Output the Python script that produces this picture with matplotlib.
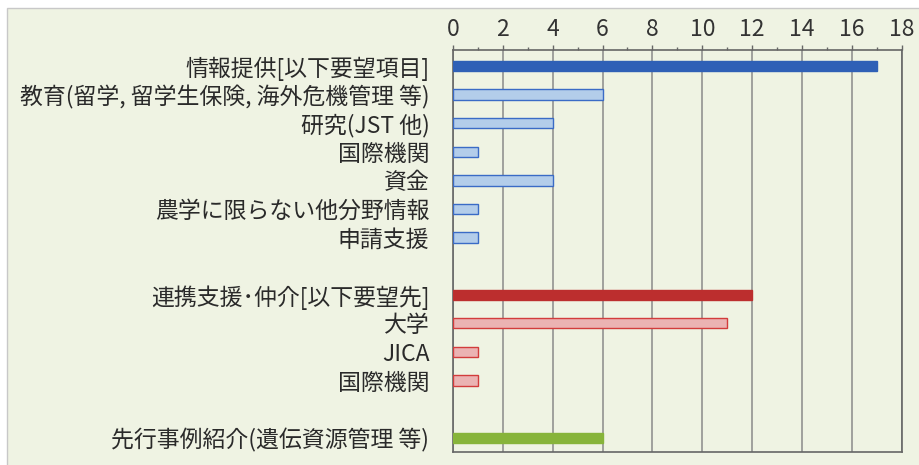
import matplotlib.pyplot as plt
from matplotlib.patches import Rectangle
from matplotlib.ticker import MultipleLocator
import numpy as np

plt.rcParams['font.family'] = ['Noto Sans CJK JP', 'DejaVu Sans']

# chart data ('' = blank spacer row)
labels = ['情報提供[以下要望項目]', '教育(留学, 留学生保険, 海外危機管理 等)', '研究(JST 他)',
          '国際機関', '資金', '農学に限らない他分野情報', '申請支援', '',
          '連携支援･仲介[以下要望先]', '大学', 'JICA', '国際機関', '',
          '先行事例紹介(遺伝資源管理 等)']
values = [17, 6, 4, 1, 4, 1, 1, 0, 12, 11, 1, 1, 0, 6]
groups = ['info', 'info', 'info', 'info', 'info', 'info', 'info', '',
          'link', 'link', 'link', 'link', '', 'case']
is_header = [True, False, False, False, False, False, False, False,
             True, False, False, False, False, True]

style = {
    ('info', True): ('#2F60B6', '#2F60B6'),
    ('info', False): ('#B3CDEA', '#3A6BC6'),
    ('link', True): ('#BC2E2E', '#BC2E2E'),
    ('link', False): ('#EBB3B3', '#D23C3C'),
    ('case', True): ('#87B43A', '#87B43A'),
}

bg = '#EFF3E3'
fig = plt.figure(figsize=(9.2, 4.65), dpi=100)
fig.patch.set_facecolor('white')
fig.patches.append(Rectangle((7 / 920, -0.01), 1.0, (465 - 8) / 465 + 0.01,
                             transform=fig.transFigure, facecolor=bg,
                             edgecolor='#C8C8C8', linewidth=1, zorder=-1))

ax = fig.add_axes([453 / 920, 13 / 465, 448.7 / 920, 402 / 465])
ax.set_facecolor(bg)

y = np.arange(len(labels))
for yi, v, g, h in zip(y, values, groups, is_header):
    if not g:
        continue
    fc, ec = style[(g, h)]
    ax.barh(yi, v, height=0.36, color=fc, edgecolor=ec, linewidth=1.0, zorder=3)

ax.set_xlim(0, 18)
ax.set_ylim(13.5, -0.56)
ax.xaxis.set_major_locator(MultipleLocator(2))
ax.xaxis.set_minor_locator(MultipleLocator(1))
ax.xaxis.tick_top()
ax.tick_params(axis='x', which='major', length=3.6, width=1, color='#666666',
               labelsize=16.5, labelcolor='#333333', pad=3)
ax.tick_params(axis='x', which='minor', length=2.2, width=1, color='#666666')
ax.grid(axis='x', which='major', color='#8A8A8A', linewidth=1.1, zorder=1)

ax.set_yticks(y)
ax.set_yticklabels(labels, fontsize=16.5, color='#2A2A2A')
ax.tick_params(axis='y', length=0, pad=17)

for s in ax.spines.values():
    s.set_color('#666666')
    s.set_linewidth(1.2)

fig.savefig('out.png', dpi=100, facecolor=fig.get_facecolor())
